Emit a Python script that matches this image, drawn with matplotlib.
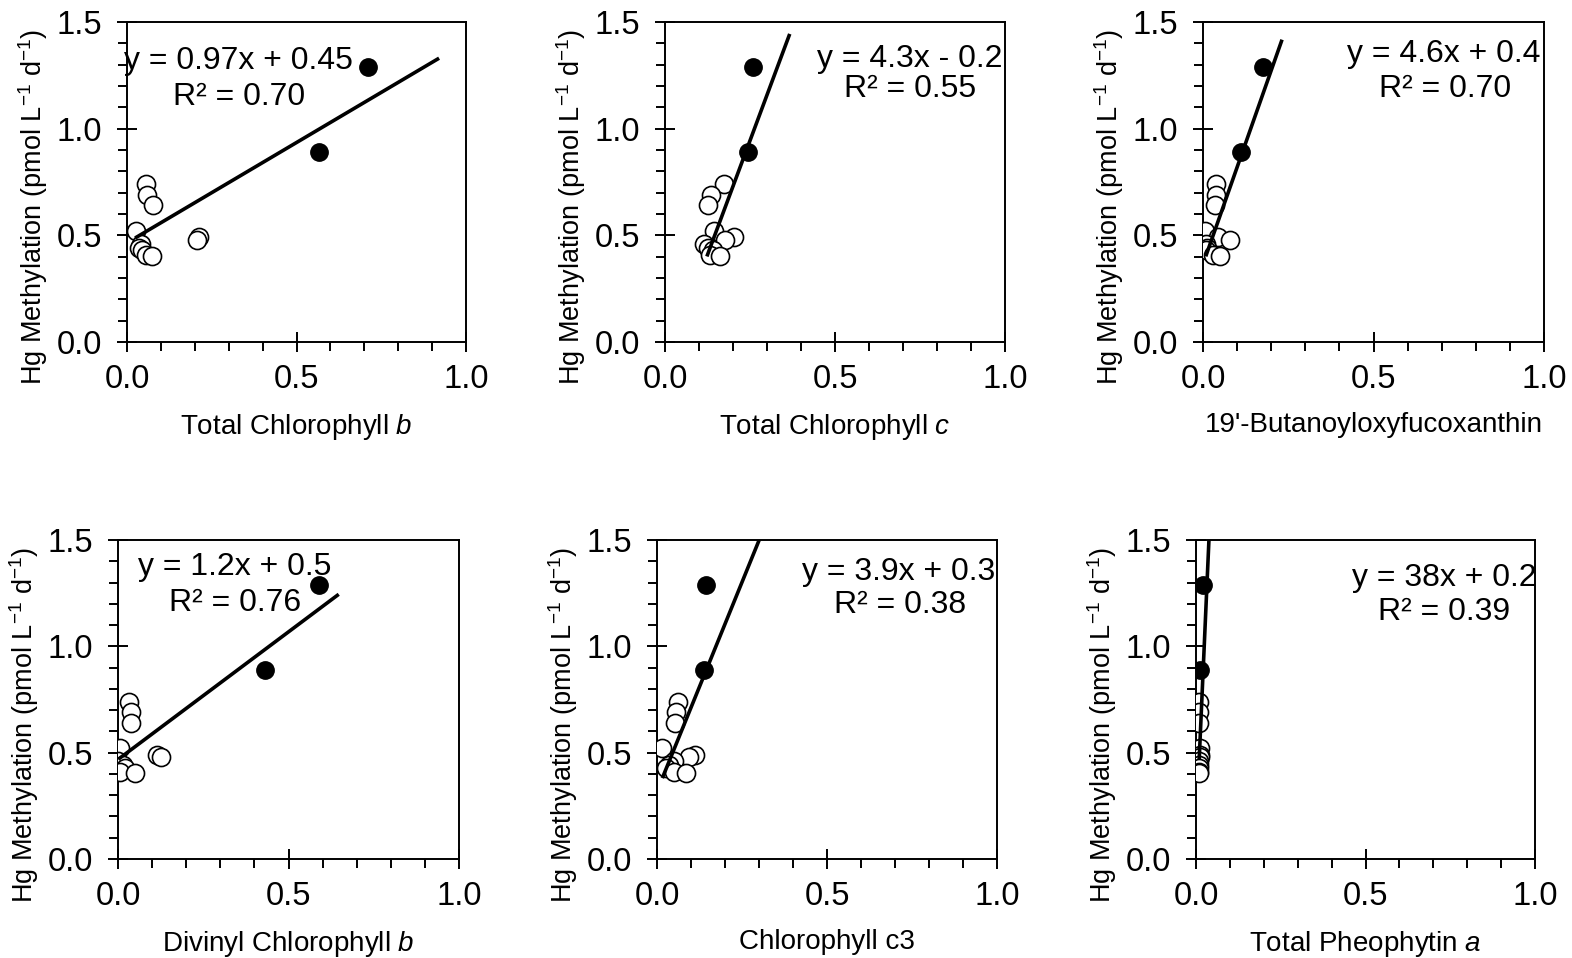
import numpy as np
import matplotlib.pyplot as plt

plt.rcParams['font.family'] = ['Liberation Sans', 'DejaVu Sans']
plt.rcParams['mathtext.fontset'] = 'custom'
plt.rcParams['mathtext.rm'] = 'Liberation Sans'
plt.rcParams['mathtext.it'] = 'Liberation Sans:italic'

# Hg methylation for each sample (same in every panel), first two are the filled points
hg_meth = [1.29, 0.89, 0.74, 0.69, 0.64, 0.52, 0.49, 0.48, 0.46, 0.44, 0.43, 0.41, 0.405]
is_filled = [True, True] + [False] * 11

# pigment concentrations, same sample order
chl_b_total = [0.71, 0.565, 0.055, 0.058, 0.076, 0.028, 0.213, 0.206, 0.04, 0.035, 0.045, 0.055, 0.075]
chl_c_total = [0.259, 0.245, 0.174, 0.134, 0.127, 0.144, 0.203, 0.176, 0.114, 0.125, 0.14, 0.131, 0.163]
but_fuco = [0.176, 0.111, 0.038, 0.037, 0.035, 0.005, 0.044, 0.078, 0.008, 0.012, 0.008, 0.029, 0.05]
dv_chl_b = [0.588, 0.431, 0.032, 0.037, 0.039, 0.007, 0.113, 0.127, 0.0, 0.015, 0.02, 0.007, 0.049]
chl_c3 = [0.145, 0.137, 0.062, 0.055, 0.052, 0.016, 0.113, 0.094, 0.05, 0.035, 0.027, 0.05, 0.084]
pheo_a = [0.020, 0.012, 0.010, 0.010, 0.009, 0.011, 0.011, 0.012, 0.008, 0.009, 0.010, 0.009, 0.009]

x_labels = ['Total Chlorophyll $\\it{b}$', 'Total Chlorophyll $\\it{c}$', "19'-Butanoyloxyfucoxanthin",
            'Divinyl Chlorophyll $\\it{b}$', 'Chlorophyll c3', 'Total Pheophytin $\\it{a}$']
equations = ['y = 0.97x + 0.45', 'y = 4.3x - 0.2', 'y = 4.6x + 0.4',
             'y = 1.2x + 0.5', 'y = 3.9x + 0.3', 'y = 38x + 0.2']
r2_labels = ['R² = 0.70', 'R² = 0.55', 'R² = 0.70', 'R² = 0.76', 'R² = 0.38', 'R² = 0.39']

# trend lines as drawn: slope, intercept, x start, x end
fit_slope = [0.94, 4.28, 4.54, 1.2, 3.93, 35.9]
fit_icpt = [0.465, -0.126, 0.365, 0.468, 0.319, 0.13]
fit_x0 = [0.0285, 0.125, 0.0098, 0.005, 0.0176, 0.0097]
fit_x1 = [0.916, 0.365, 0.23, 0.643, 0.299, 0.045]

pigments = [chl_b_total, chl_c_total, but_fuco, dv_chl_b, chl_c3, pheo_a]

W, H = 1572, 958
fig = plt.figure(figsize=(W / 100, H / 100), dpi=100)

# axes boxes in pixels (left, top, right, bottom)
boxes = [(127, 22, 466, 342), (665, 22, 1005, 342), (1203, 22, 1544, 342),
         (118, 540, 459, 859), (657, 540, 997, 859), (1196, 540, 1535, 859)]
# centre of equation / R² text lines in pixels
eq_pos = [(238, 61), (910, 59), (1444, 54), (235, 567), (899, 572), (1444, 578)]
r2_pos = [(239, 97), (910, 89), (1445, 89), (235, 603), (900, 605), (1444, 612)]

ylab = 'Hg Methylation (pmol L$^{-1}$ d$^{-1}$)'

for i in range(6):
    x0, y0, x1, y1 = boxes[i]
    ax = fig.add_axes([x0 / W, 1 - y1 / H, (x1 - x0) / W, (y1 - y0) / H])
    xs = np.array(pigments[i])
    ys = np.array(hg_meth)
    filled = np.array(is_filled)

    ax.plot(xs[~filled], ys[~filled], 'o', ms=13, mfc='white', mec='black', mew=1.2, zorder=3)
    ax.plot(xs[filled], ys[filled], 'o', ms=12.5, mfc='black', mec='black', zorder=3)

    fx = np.array([fit_x0[i], fit_x1[i]])
    ax.plot(fx, fit_slope[i] * fx + fit_icpt[i], color='black', lw=2.6, zorder=4)

    ax.set_xlim(0, 1.0)
    ax.set_ylim(0, 1.5)
    ax.set_xticks([0, 0.5, 1.0])
    ax.set_yticks([0, 0.5, 1.0, 1.5])
    ax.set_xticks(np.arange(0, 1.0001, 0.1), minor=True)
    ax.set_yticks(np.arange(0, 1.5001, 0.1), minor=True)
    ax.set_xticklabels(['0.0', '0.5', '1.0'])
    ax.set_yticklabels(['0.0', '0.5', '1.0', '1.5'])
    ax.tick_params(which='major', direction='inout', length=14, width=1.4, labelsize=23.5)
    ax.tick_params(axis='x', which='major', pad=9)
    ax.tick_params(axis='y', which='major', pad=11)
    ax.tick_params(which='minor', direction='out', length=6.5, width=1.4)
    for sp in ax.spines.values():
        sp.set_linewidth(1.4)

    ax.set_xlabel(x_labels[i], fontsize=20, labelpad=12)
    ax.set_ylabel(ylab, fontsize=19.5)
    # y label sits a little below the axes centre in the original
    ax.yaxis.set_label_coords(-77 / (x1 - x0), 1 - 185 / (y1 - y0))

    fig.text(eq_pos[i][0] / W, 1 - eq_pos[i][1] / H, equations[i], fontsize=23,
             ha='center', va='center')
    fig.text(r2_pos[i][0] / W, 1 - r2_pos[i][1] / H, r2_labels[i], fontsize=23,
             ha='center', va='center')

fig.savefig('out.png', dpi=100)
